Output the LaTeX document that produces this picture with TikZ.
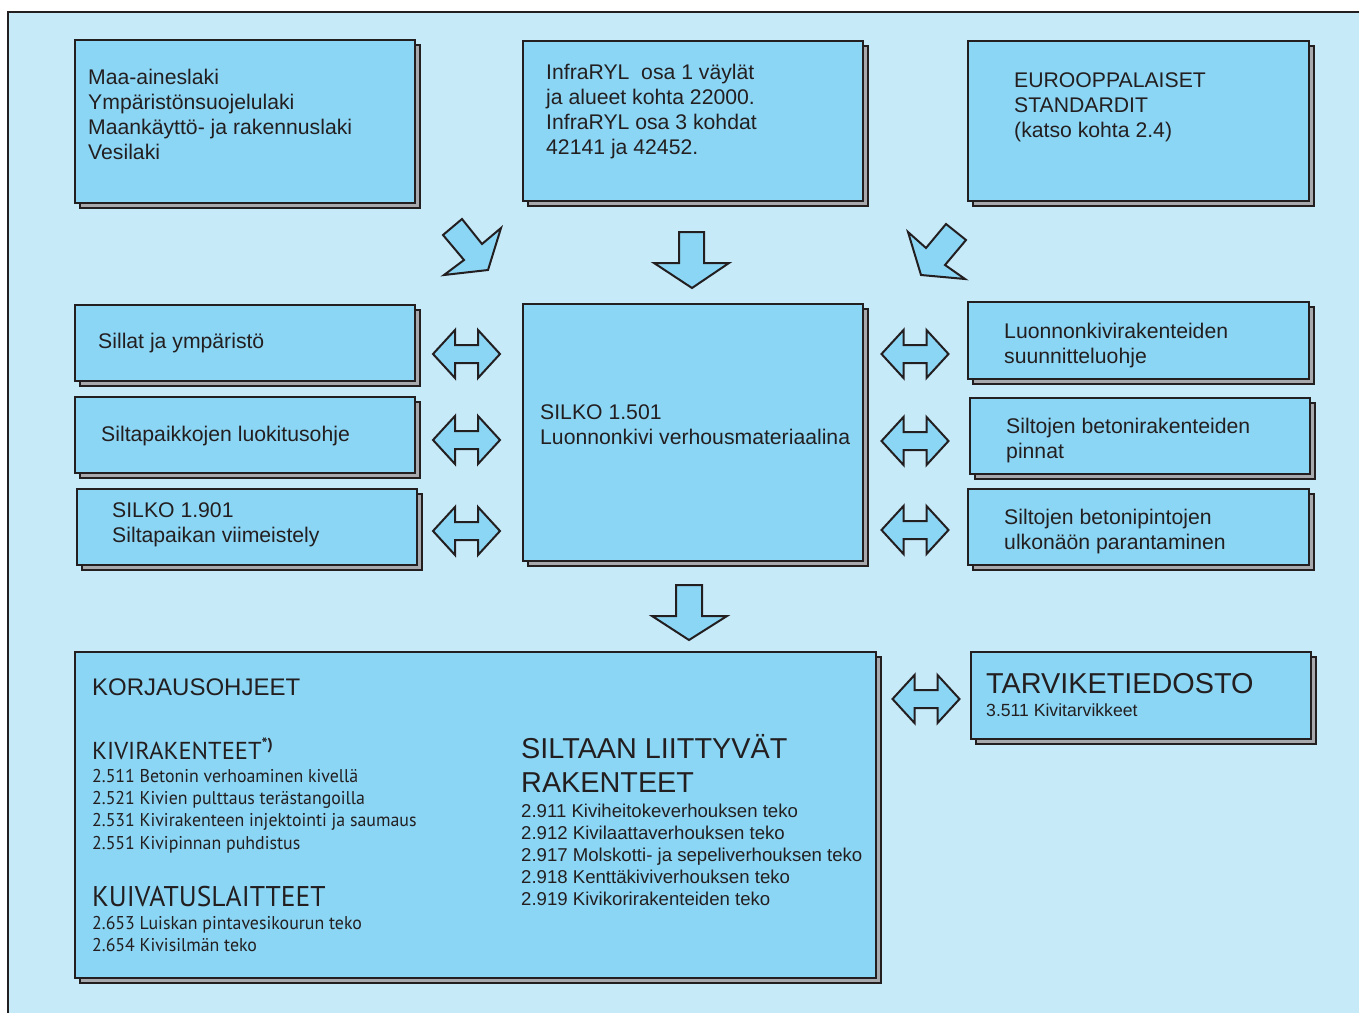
\documentclass[tikz,border=0pt]{standalone}
\usepackage{fontspec}
\setmainfont{Liberation Sans}
\newfontfamily\myr{PT Sans}
\newfontfamily\myrn[FakeStretch=0.965]{PT Sans}
\usetikzlibrary{shadows}
\definecolor{bg}{HTML}{C7EAF9}
\definecolor{boxfill}{HTML}{8CD6F5}
\definecolor{shgray}{HTML}{A7A9AC}
\definecolor{ink}{HTML}{231F20}
\tikzset{
 boxst/.style={draw=ink, line width=2.4pt, fill=boxfill, inner sep=0pt, outer sep=0pt,
   copy shadow={shadow xshift=5pt, shadow yshift=-5pt, fill=shgray, draw=ink, line width=2.4pt}},
 arrowst/.style={draw=ink, line width=2pt, fill=boxfill, line join=miter},
 txt/.style={inner sep=0pt, anchor=base west, text=ink, font=\fontsize{21.2pt}{25.3pt}\selectfont},
 bigtxt/.style={inner sep=0pt, anchor=base west, text=ink, font=\fontsize{28.8pt}{34pt}\selectfont},
 itemtxt/.style={inner sep=0pt, anchor=base west, text=ink, font=\fontsize{18.6pt}{22pt}\selectfont},
 myrtxt/.style={inner sep=0pt, anchor=base west, text=ink, font=\myrn\fontsize{18.5pt}{22.4pt}\selectfont},
}
\newcommand\mkbox[5]{\node[boxst,anchor=north west,minimum width={(#4-#2)*1pt},minimum height={(#5-#3)*1pt}] (#1) at (#2,#3) {};}
\newcommand\ml[1]{\begin{tabular}[t]{@{}l@{}}#1\end{tabular}}
\newcommand\dblarrow[2]{\draw[arrowst, shift={(#1,#2)}] (-33.5,0)--(-11.5,-24)--(-11.5,-9)--(11.5,-9)--(11.5,-24)--(33.5,0)--(11.5,24)--(11.5,9)--(-11.5,9)--(-11.5,24)--cycle;}
\begin{document}
\begin{tikzpicture}[x=1pt,y=-1pt]
\useasboundingbox (0,0) rectangle (1359,1012);
\clip (0,0) rectangle (1359,1012);
\fill[white] (0,0) rectangle (1359,1012);
\draw[fill=bg, draw=ink, line width=2.4pt] (8,12) rectangle (1390,1040);

% top row
\mkbox{b1}{75}{40}{415}{203}
\mkbox{b2}{523}{41}{863}{201}
\mkbox{b3}{968}{41}{1309}{201}
% left column
\mkbox{l1}{75}{305}{415}{381}
\mkbox{l2}{75}{397}{415}{473}
\mkbox{l3}{77}{489}{417}{565}
% centre
\mkbox{c}{523}{304}{863}{561}
% right column
\mkbox{r1}{968}{302}{1309}{379}
\mkbox{r2}{970}{398}{1310}{474}
\mkbox{r3}{968}{489}{1309}{565}
% bottom
\mkbox{k}{75}{652}{876}{978}
\mkbox{tv}{971}{652}{1311}{739}

% texts
\node[txt] (tb1) at (88,84) {\ml{Maa-aineslaki\\Ympäristönsuojelulaki\\Maankäyttö- ja rakennuslaki\\Vesilaki}};
\node[txt] (tb2) at (546,79) {\ml{InfraRYL~ osa 1 väylät\\ja alueet kohta 22000.\\InfraRYL osa 3 kohdat\\42141 ja 42452.}};
\node[txt] (tb3) at (1014,87) {\ml{EUROOPPALAISET\\STANDARDIT\\(katso kohta 2.4)}};
\node[txt] (tl1) at (98,348) {Sillat ja ympäristö};
\node[txt] (tl2) at (101,441) {Siltapaikkojen luokitusohje};
\node[txt] (tl3) at (112,517) {\ml{SILKO 1.901\\Siltapaikan viimeistely}};
\node[txt] (tc) at (540,419) {\ml{SILKO 1.501\\Luonnonkivi verhousmateriaalina}};
\node[txt] (tr1) at (1004,338) {\ml{Luonnonkivirakenteiden\\suunnitteluohje}};
\node[txt] (tr2) at (1006,433) {\ml{Siltojen betonirakenteiden\\pinnat}};
\node[txt] (tr3) at (1004,524) {\ml{Siltojen betonipintojen\\ulkonäön parantaminen}};

\node[inner sep=0pt, anchor=base west, text=ink, font=\fontsize{24pt}{28pt}\selectfont] (tk) at (92,695) {KORJAUSOHJEET};
\node[inner sep=0pt, anchor=base west, text=ink, font=\myr\fontsize{24.5pt}{28pt}\selectfont] (tkr) at (92,759) {KIVIRAKENTEET\raisebox{0.38em}{\fontsize{16pt}{16pt}\selectfont\bfseries *)}};
\node[myrtxt] (tkri) at (92,782) {\ml{2.511 Betonin verhoaminen kivellä\\2.521 Kivien pulttaus terästangoilla\\2.531 Kivirakenteen injektointi ja saumaus\\2.551 Kivipinnan puhdistus}};
\node[inner sep=0pt, anchor=base west, text=ink, font=\myrn\fontsize{28.5pt}{32pt}\selectfont] (tku) at (92,906) {KUIVATUSLAITTEET};
\node[myrtxt] (tkui) at (92,929) {\ml{2.653 Luiskan pintavesikourun teko\\2.654 Kivisilmän teko}};
\node[bigtxt] (ts) at (521,758) {\ml{SILTAAN LIITTYVÄT\\RAKENTEET}};
\node[itemtxt] (tsi) at (521,817) {\ml{2.911 Kiviheitokeverhouksen teko\\2.912 Kivilaattaverhouksen teko\\2.917 Molskotti- ja sepeliverhouksen teko\\2.918 Kenttäkiviverhouksen teko\\2.919 Kivikorirakenteiden teko}};
\node[bigtxt] (ttv) at (986,693) {TARVIKETIEDOSTO};
\node[inner sep=0pt, anchor=base west, text=ink, font=\fontsize{17.6pt}{20pt}\selectfont] (ttvi) at (986,716) {3.511 Kivitarvikkeet};

% arrows
\draw[arrowst] (462,219)--(443,235)--(464,260)--(444,275)--(488,270)--(501,228)--(482,244)--cycle;
\draw[arrowst] (679,232)--(704,232)--(704,263)--(729,263)--(692,288)--(654,263)--(679,263)--cycle;
\draw[arrowst] (946,224)--(966,240)--(945,265)--(965,279)--(921,275)--(908,232)--(926,248)--cycle;
\draw[arrowst] (676,585)--(702,585)--(702,616)--(727,616)--(689,640)--(652,616)--(676,616)--cycle;
\dblarrow{466.5}{354}
\dblarrow{466.5}{440}
\dblarrow{466.5}{531}
\dblarrow{915}{354}
\dblarrow{915}{441}
\dblarrow{915}{530}
\dblarrow{926}{699}
\end{tikzpicture}
\end{document}
